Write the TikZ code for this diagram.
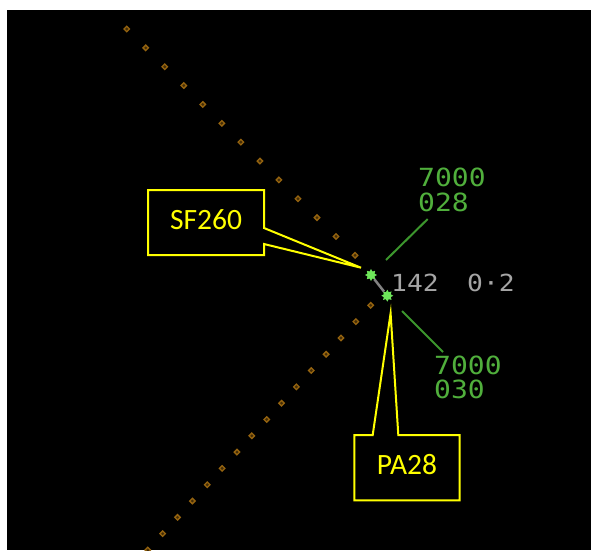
\documentclass[tikz,border=0pt]{standalone}
\usepackage{fontspec}
\setmainfont{Carlito}
\newfontfamily\radarfont[FakeStretch=1.12]{DejaVu Sans Mono}
\usetikzlibrary{shapes.geometric}

\definecolor{trail}{RGB}{150,100,15}
\definecolor{blipgreen}{RGB}{110,230,90}
\definecolor{taggreen}{RGB}{80,175,60}
\definecolor{leadgreen}{RGB}{60,150,45}
\definecolor{readgray}{RGB}{165,165,165}
\definecolor{linkgray}{RGB}{130,130,130}
\definecolor{noteyellow}{RGB}{255,255,0}

\tikzset{
	trackdot/.style={draw=trail,fill=trail!45!black,line width=1.3pt,diamond,inner sep=0pt,minimum size=6pt},
	blip/.style={fill=blipgreen,star,star points=8,star point ratio=1.6,inner sep=0pt,minimum size=12pt},
	pairlink/.style={linkgray,line width=2.5pt},
	leader/.style={leadgreen,line width=2pt},
	tag/.style={text=taggreen,font=\radarfont\fontsize{25}{25}\selectfont,inner sep=0pt,anchor=base west},
	readout/.style={text=readgray,font=\radarfont\fontsize{23.5}{24}\selectfont,inner sep=0pt,anchor=base west},
	callout/.style={noteyellow,line width=2pt,line join=miter},
	callout text/.style={text=noteyellow,font=\fontsize{29.5}{30}\selectfont,inner sep=0pt}
}

\begin{document}
\begin{tikzpicture}[x=1pt,y=-1pt]
		\useasboundingbox (0,0) rectangle (591,550);
		\fill[black] (7,10) rectangle (591,550);
		% history trails
		\foreach \i in {0,...,12}
			\node[trackdot] (up\i) at ({126.7+19.03*\i},{29+18.86*\i}) {};
		\foreach \i in {0,...,15}
			\node[trackdot] (lo\i) at ({370.7-14.86*\i},{305.3+16.31*\i}) {};
		% the two returns
		\node[blip] (sf) at (371,275) {};
		\node[blip] (pa) at (387.3,295.7) {};
		\draw[pairlink] (sf) -- (pa);
		\node[readout] (brg) at (391,291) {142};
		\node[readout] (rng) at (467,291) {0·2};
		% data blocks
		\node[tag] (sfsq) at (418,186) {7000};
		\node[tag] (sfalt) at (418,211) {028};
		\node[tag] (pasq) at (434,374) {7000};
		\node[tag] (paalt) at (434,398) {030};
		\coordinate (sflead) at (386,260);
		\coordinate (sfleadend) at (427.7,219);
		\coordinate (palead) at (402,311);
		\coordinate (paleadend) at (443,352);
		\draw[leader] (sflead) -- (sfleadend);
		\draw[leader] (palead) -- (paleadend);
		% callouts
		\coordinate (sftip) at (361,267.7);
		\coordinate (patip) at (390.6,313.3);
		\draw[callout] (148,190) -- (264,190) -- (264,228) -- (sftip) -- (264,244) -- (264,255) -- (148,255) -- cycle;
		\node[callout text] (sfname) at (206,220) {SF260};
		\draw[callout] (354.3,435) -- (372.7,435) -- (patip) -- (398.3,435) -- (459.7,435) -- (459.7,500.3) -- (354.3,500.3) -- cycle;
		\node[callout text] (paname) at (407,464.7) {PA28};
\end{tikzpicture}
\end{document}
